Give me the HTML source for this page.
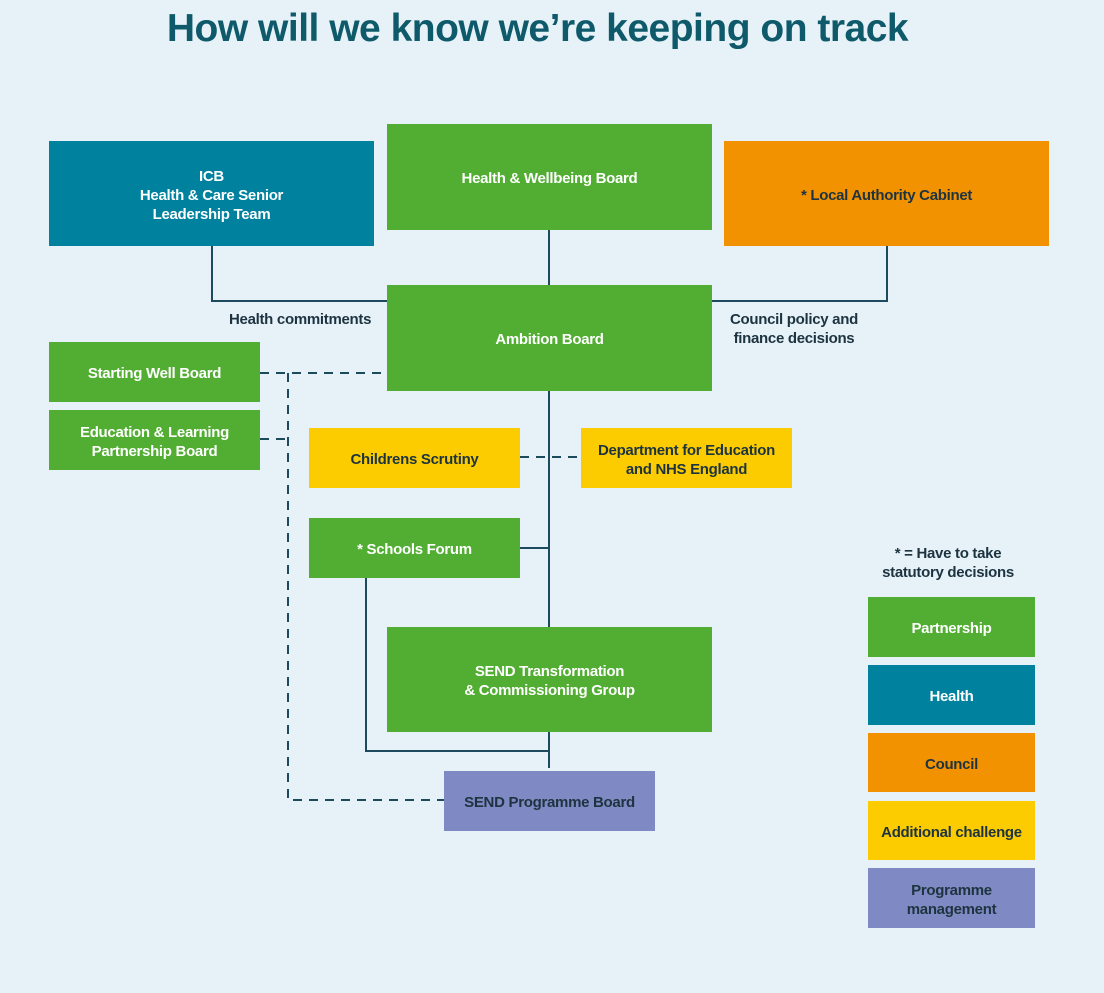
<!DOCTYPE html>
<html><head><meta charset="utf-8"><style>
body{margin:0;width:1104px;height:993px;background:#e6f1f8;position:relative;overflow:hidden;font-family:"Liberation Sans",sans-serif;}
.b{position:absolute;display:flex;align-items:center;justify-content:center;text-align:center;font-weight:bold;font-size:15px;line-height:19px;color:#fff;letter-spacing:-0.3px;box-sizing:border-box;padding-top:3px}
.g{background:#52ae32}.t{background:#00829f}.o{background:#f39200;color:#1d3440}.y{background:#fccc00;color:#1d3440}.p{background:#7f89c3;color:#1d3440}
.l{position:absolute;font-size:15px;line-height:19px;color:#1d3440;font-weight:bold;letter-spacing:-0.3px}
h1{position:absolute;left:0;width:1075px;top:7px;margin:0;text-align:center;font-size:39px;color:#0e5a6b;letter-spacing:-0.5px}
svg{position:absolute;left:0;top:0}
</style></head><body>
<h1>How will we know we’re keeping on track</h1>
<svg width="1104" height="993">
<g stroke="#1d4a5c" stroke-width="2" fill="none">
<path d="M212 246V301H387M549 230V285M887 246V301H712M549 391V768M520 548H549M366 578V751H549"/>
<path stroke-dasharray="9 7" d="M260 373H387M288 373V800H444M260 439H288M520 457H581"/>
</g></svg>
<div class="b t" style="left:49px;top:141px;width:325px;height:105px">ICB<br>Health &amp; Care Senior<br>Leadership Team</div>
<div class="b g" style="left:387px;top:124px;width:325px;height:106px">Health &amp; Wellbeing Board</div>
<div class="b o" style="left:724px;top:141px;width:325px;height:105px">* Local Authority Cabinet</div>
<div class="b g" style="left:387px;top:285px;width:325px;height:106px">Ambition Board</div>
<div class="b g" style="left:49px;top:342px;width:211px;height:60px">Starting Well Board</div>
<div class="b g" style="left:49px;top:410px;width:211px;height:60px">Education &amp; Learning<br>Partnership Board</div>
<div class="b y" style="left:309px;top:428px;width:211px;height:60px">Childrens Scrutiny</div>
<div class="b y" style="left:581px;top:428px;width:211px;height:60px">Department for Education<br>and NHS England</div>
<div class="b g" style="left:309px;top:518px;width:211px;height:60px">* Schools Forum</div>
<div class="b g" style="left:387px;top:627px;width:325px;height:105px">SEND Transformation<br>&amp; Commissioning Group</div>
<div class="b p" style="left:444px;top:771px;width:211px;height:60px">SEND Programme Board</div>
<div class="l" style="left:229px;top:310px">Health commitments</div>
<div class="l" style="left:730px;top:310px;text-align:center">Council policy and<br>finance decisions</div>
<div class="l" style="left:868px;top:544px;width:160px;text-align:center">* = Have to take<br>statutory decisions</div>
<div class="b g" style="left:868px;top:597px;width:167px;height:60px">Partnership</div>
<div class="b t" style="left:868px;top:665px;width:167px;height:60px">Health</div>
<div class="b o" style="left:868px;top:733px;width:167px;height:59px">Council</div>
<div class="b y" style="left:868px;top:801px;width:167px;height:59px">Additional challenge</div>
<div class="b p" style="left:868px;top:868px;width:167px;height:60px">Programme<br>management</div>
</body></html>
